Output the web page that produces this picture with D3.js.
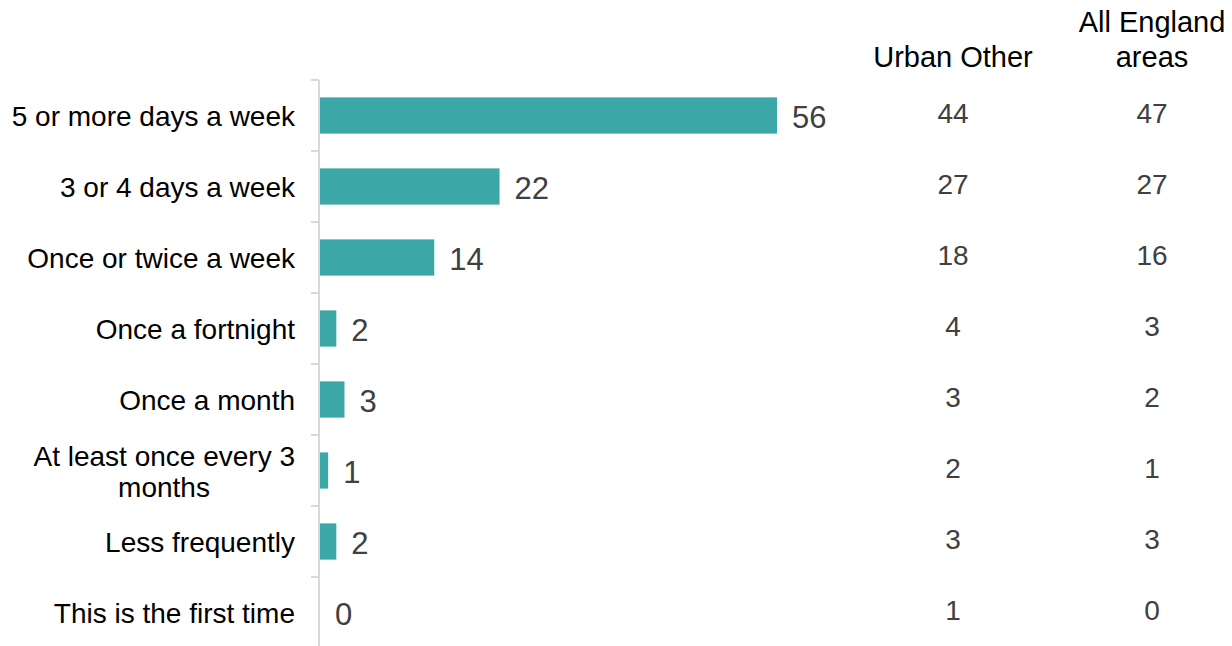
<!DOCTYPE html>
<html>
<head>
<meta charset="utf-8">
<script src="https://cdn.jsdelivr.net/npm/d3@7"></script>
<style>
  html, body { margin: 0; padding: 0; background: #fff; }
  svg { display: block; font-family: "Liberation Sans", Arial, sans-serif; }
</style>
</head>
<body>
<svg id="chart" width="1232" height="646"></svg>
<script>
const categories = [
  "5 or more days a week",
  "3 or 4 days a week",
  "Once or twice a week",
  "Once a fortnight",
  "Once a month",
  "At least once every 3|months",
  "Less frequently",
  "This is the first time"
];
const barValues = [56, 22, 14, 2, 3, 1, 2, 0];
const urbanOther = [44, 27, 18, 4, 3, 2, 3, 1];
const allEngland = [47, 27, 16, 3, 2, 1, 3, 0];
const columnHeaders = [["Urban Other"], ["All England", "areas"]];

const svg = d3.select("#chart");

const y = d3.scaleBand()
  .domain(d3.range(categories.length))
  .range([80, 648])
  .paddingInner(0.49)
  .paddingOuter(0.245);

const x = d3.scaleLinear().domain([0, 56]).range([320, 777]);

// axis line
const axisX = 319;
svg.append("line")
  .attr("x1", axisX).attr("x2", axisX)
  .attr("y1", y.range()[0]).attr("y2", y.range()[1])
  .attr("stroke", "#d9d9d9").attr("stroke-width", 2);

// tick marks at band boundaries
const boundaries = d3.range(categories.length + 1).map(i => y.range()[0] + i * y.step());
svg.selectAll("line.tick").data(boundaries).join("line")
  .attr("class", "tick")
  .attr("x1", axisX - 8).attr("x2", axisX)
  .attr("y1", d => d).attr("y2", d => d)
  .attr("stroke", "#d9d9d9").attr("stroke-width", 2);

// bars
svg.selectAll("rect.bar").data(barValues).join("rect")
  .attr("class", "bar")
  .attr("x", x(0))
  .attr("y", (d, i) => y(i))
  .attr("width", d => x(d) - x(0))
  .attr("height", y.bandwidth())
  .attr("fill", "#3ba7a7");

// bar value labels
svg.selectAll("text.val").data(barValues).join("text")
  .attr("class", "val")
  .attr("x", d => x(d) + 15)
  .attr("y", (d, i) => y(i) + y.bandwidth() / 2 + 1.5)
  .attr("dy", "0.35em")
  .attr("font-size", 31)
  .attr("fill", "#404040")
  .text(d => d);

// category labels
const catG = svg.selectAll("text.cat").data(categories).join("text")
  .attr("class", "cat")
  .attr("font-size", 28)
  .attr("fill", "#000");
catG.each(function(d, i) {
  const lines = d.split("|");
  const cy = y(i) + y.bandwidth() / 2 + 1;
  const lh = 31;
  const sel = d3.select(this);
  lines.forEach((ln, k) => {
    const centred = lines.length > 1 && k === 1;
    sel.append("tspan")
      .attr("x", centred ? 164 : 295)
      .attr("y", cy + (k - (lines.length - 1) / 2) * lh)
      .attr("dy", "0.35em")
      .attr("text-anchor", centred ? "middle" : "end")
      .text(ln);
  });
});

// columns
const colX = [953, 1152];
const colData = [urbanOther, allEngland];
columnHeaders.forEach((lines, c) => {
  const t = svg.append("text")
    .attr("text-anchor", "middle")
    .attr("font-size", 29)
    .attr("fill", "#000");
  const lastY = 57;
  lines.forEach((ln, k) => {
    t.append("tspan")
      .attr("x", colX[c])
      .attr("y", lastY - (lines.length - 1 - k) * 35)
      .attr("dy", "0.35em")
      .text(ln);
  });
  svg.selectAll("text.col" + c).data(colData[c]).join("text")
    .attr("class", "col" + c)
    .attr("x", colX[c])
    .attr("y", (d, i) => y(i) + y.bandwidth() / 2 - 2)
    .attr("dy", "0.35em")
    .attr("text-anchor", "middle")
    .attr("font-size", 28)
    .attr("fill", "#404040")
    .text(d => d);
});
</script>
</body>
</html>
